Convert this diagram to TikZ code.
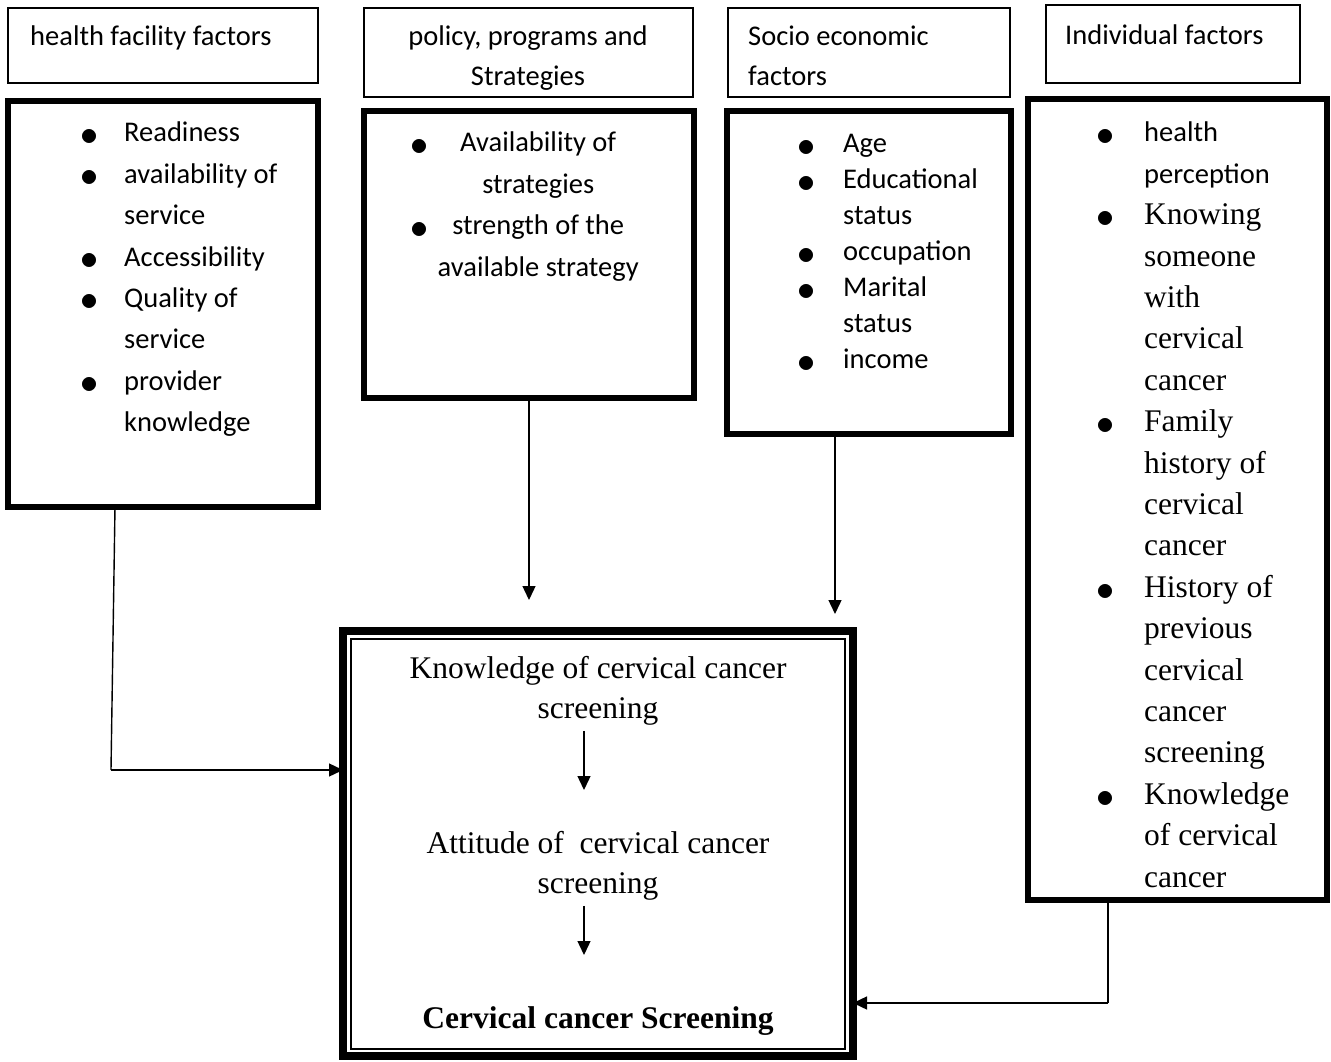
\documentclass[tikz,border=0pt]{standalone}
\usepackage{graphicx}
\usepackage{fontspec}
\setmainfont{Liberation Serif}
\newfontfamily\calfont{Carlito}
\usetikzlibrary{arrows.meta}
\newcommand\sansbody{\calfont\fontsize{28.5}{41.4}\selectfont}
\newcommand\sansC{\calfont\fontsize{28.5}{36}\selectfont}
\newcommand\sanshdr{\calfont\fontsize{28.5}{39.5}\selectfont}
\newcommand\serifctr{\rmfamily\fontsize{31.5}{40.5}\selectfont}
\newcommand\bul[1]{\makebox[#1][l]{\hspace{-3pt}\raisebox{-3.2pt}{\scalebox{1.45}{$\bullet$}}}}
\newcommand\sr[1]{{\rmfamily\fontsize{31.5}{41.4}\selectfont #1}}
\begin{document}
\begin{tikzpicture}[x=1pt,y=-1pt,
  hdr/.style={draw,line width=1.3pt,inner sep=0pt,outer sep=0pt,anchor=north west},
  fat/.style={draw,line width=6pt,inner sep=0pt,outer sep=0pt,anchor=north west},
  txt/.style={inner sep=0pt,anchor=base west},
  ctxt/.style={inner sep=0pt,anchor=base},
  conn/.style={line width=1.4pt},
  arr/.style={line width=1.4pt,-{Triangle[length=14pt,width=13pt]}}
]
\fill[white] (0,0) rectangle (1331,1062);
\useasboundingbox (0,0) rectangle (1331,1062);

% header boxes
\node[hdr,minimum width=310pt,minimum height=75pt] (h1) at (8,8) {};
\node[hdr,minimum width=329pt,minimum height=89pt] (h2) at (364,8) {};
\node[hdr,minimum width=282pt,minimum height=89pt] (h3) at (728,8) {};
\node[hdr,minimum width=254pt,minimum height=78pt] (h4) at (1046,5) {};

\node[txt,font=\sanshdr] (t1) at (30,46) {health facility factors};
\node[ctxt,font=\sanshdr] (t2) at (528,46) {\begin{tabular}[t]{@{}c@{}}policy, programs and\\Strategies\end{tabular}};
\node[txt,font=\sanshdr] (t3) at (748,46) {\begin{tabular}[t]{@{}l@{}}Socio economic\\factors\end{tabular}};
\node[txt,font=\sanshdr] (t4) at (1065,45) {Individual factors};

% thick boxes
\node[fat,minimum width=310pt,minimum height=406pt] (bA) at (8,101) {};
\node[fat,minimum width=330pt,minimum height=287pt] (bB) at (364,111) {};
\node[fat,minimum width=284pt,minimum height=323pt] (bC) at (727,111) {};
\node[fat,minimum width=299pt,minimum height=801pt] (bD) at (1028,99) {};

% lists
\node[txt,font=\sansbody] (lA) at (83,142) {\begin{tabular}[t]{@{}l@{}l@{}}
\bul{41pt} & Readiness\\
\bul{41pt} & availability of\\
 & service\\
\bul{41pt} & Accessibility\\
\bul{41pt} & Quality of\\
 & service\\
\bul{41pt} & provider\\
 & knowledge
\end{tabular}};

\node[txt,font=\sansbody] (lB) at (413,152) {\begin{tabular}[t]{@{}l@{}l@{}}
\bul{15pt} & \makebox[220pt][c]{Availability of}\\
 & \makebox[220pt][c]{strategies}\\
\bul{15pt} & \makebox[220pt][c]{strength of the}\\
 & \makebox[220pt][c]{available strategy}
\end{tabular}};

\node[txt,font=\sansC] (lC) at (800,153) {\begin{tabular}[t]{@{}l@{}l@{}}
\bul{43pt} & Age\\
\bul{43pt} & Educational\\
 & status\\
\bul{43pt} & occupation\\
\bul{43pt} & Marital\\
 & status\\
\bul{43pt} & income
\end{tabular}};

\node[txt,font=\sansbody] (lD) at (1099,142) {\begin{tabular}[t]{@{}l@{}l@{}}
\bul{45pt} & health\\
 & perception\\
\bul{45pt} & \sr{Knowing}\\
 & \sr{someone}\\
 & \sr{with}\\
 & \sr{cervical}\\
 & \sr{cancer}\\
\bul{45pt} & \sr{Family}\\
 & \sr{history of}\\
 & \sr{cervical}\\
 & \sr{cancer}\\
\bul{45pt} & \sr{History of}\\
 & \sr{previous}\\
 & \sr{cervical}\\
 & \sr{cancer}\\
 & \sr{screening}\\
\bul{45pt} & \sr{Knowledge}\\
 & \sr{of cervical}\\
 & \sr{cancer}
\end{tabular}};

% centre box
\node[draw,line width=8pt,inner sep=0pt,outer sep=0pt,anchor=north west,minimum width=510pt,minimum height=425pt] (ctr) at (343,631) {};
\draw[line width=1.5pt] (351,639) rectangle (845,1049);

\node[ctxt,font=\serifctr] (k1) at (598,678) {\begin{tabular}[t]{@{}c@{}}Knowledge of cervical cancer\\screening\end{tabular}};
\node[ctxt,font=\serifctr] (a1) at (598,853) {\begin{tabular}[t]{@{}c@{}}Attitude of\ \ cervical cancer\\screening\end{tabular}};
\node[ctxt,font=\serifctr\bfseries] (s1) at (598,1028) {Cervical cancer Screening};

\coordinate (e1) at (584,790);
\coordinate (e2) at (584,955);
\draw[arr] ([xshift=-14pt]k1.south) -- (e1);
\draw[arr] ([xshift=-14pt]a1.south) -- (e2);

% connectors
\coordinate (pA) at (111,770);
\draw[conn] ([xshift=-48pt]bA.south) -- (pA);
\draw[arr] (pA) -- (ctr.west |- pA);

\coordinate (pB) at (529,600);
\draw[arr] (bB.south) -- (pB);

\coordinate (pC) at (835,614);
\draw[arr] ([xshift=-34pt]bC.south) -- (pC);

\coordinate (pD) at (1108,1003);
\draw[conn] ([xshift=-69.5pt]bD.south) -- (pD);
\draw[arr] (pD) -- (ctr.east |- pD);
\end{tikzpicture}
\end{document}
